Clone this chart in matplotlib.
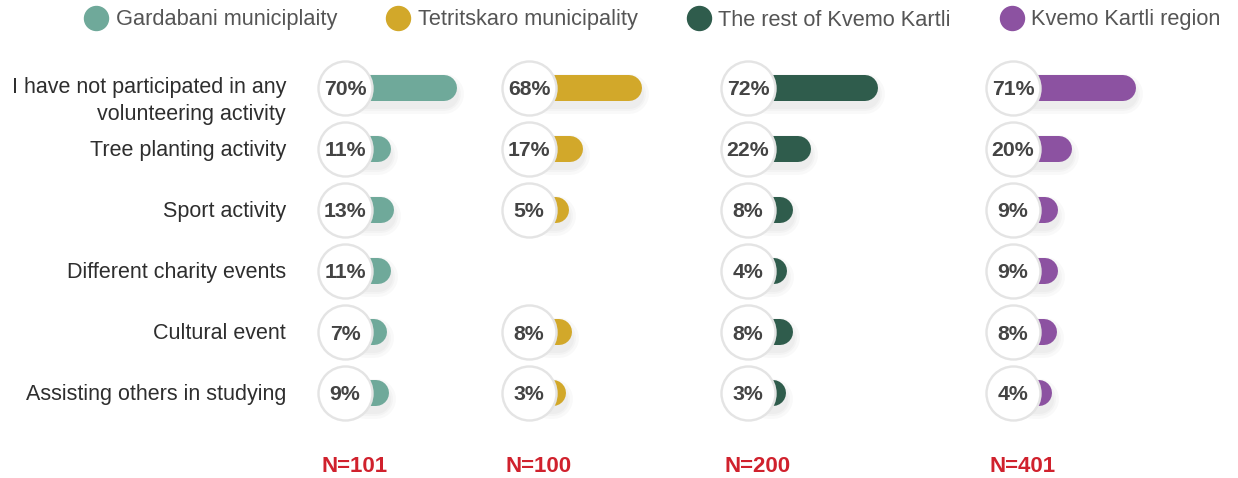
import numpy as np
import matplotlib.pyplot as plt
from matplotlib.transforms import blended_transform_factory
from matplotlib.lines import Line2D

plt.rcParams['font.family'] = ['Liberation Sans', 'DejaVu Sans']

activities = ["I have not participated in any\nvolunteering activity",
              "Tree planting activity",
              "Sport activity",
              "Different charity events",
              "Cultural event",
              "Assisting others in studying"]

groups = ["Gardabani municiplaity", "Tetritskaro municipality",
          "The rest of Kvemo Kartli", "Kvemo Kartli region"]
colors = ["#6fa99a", "#d2a82a", "#2f5c4c", "#8c52a1"]

gardabani = [70, 11, 13, 11, 7, 9]
tetritskaro = [68, 17, 5, None, 8, 3]
rest_kk = [72, 22, 8, 4, 8, 3]
kk_region = [71, 20, 9, 9, 8, 4]
values = [gardabani, tetritskaro, rest_kk, kk_region]
sample_n = [101, 100, 200, 401]

W, H = 1238, 478
fig = plt.figure(figsize=(W / 100, H / 100), dpi=100)

# panel layout in pixels: circle centre and pixels per percent
centres = [345, 529, 748, 1013]
px_per_pct = [1.12, 1.16, 1.34, 1.25]
row_top, row_h = 57.5, 61
bar_gap = 21       # bar start, right of circle centre (px)
bar_w = 26         # bar thickness (px)

pt = 72 / 100      # points per pixel
axes = []
for i, vals in enumerate(values):
    cx, k = centres[i], px_per_pct[i]
    left, width = cx - 40, 220
    ax = fig.add_axes([left / W, 1 - (row_top + 6 * row_h) / H,
                       width / W, 6 * row_h / H])
    ax.set_xlim(-40 / k, 180 / k)
    ax.set_ylim(5.5, -0.5)
    ax.axis('off')
    start = bar_gap / k
    for r, v in enumerate(vals):
        if v is None:
            continue
        # soft shadow under the bar
        for extra in [14, 8, 3]:
            ax.plot([start, start + v], [r + 0.1, r + 0.1], color='black',
                    alpha=0.025, lw=(bar_w + extra) * pt,
                    solid_capstyle='round', zorder=1)
        ax.plot([start, start + v], [r, r], color=colors[i],
                lw=bar_w * pt, solid_capstyle='round', zorder=2)
        ax.scatter([0], [r], s=(54 * pt) ** 2, facecolor='white',
                   edgecolor='#e4e4e4', linewidth=2.4 * pt, zorder=3)
        ax.text(0, r, f"{v}%", ha='center', va='center_baseline',
                fontsize=15.3, fontweight='bold', color='#444444', zorder=4)
    trans = blended_transform_factory(ax.transData, fig.transFigure)
    ax.text(10 / k, 1 - 466 / H, f"N={sample_n[i]}", transform=trans,
            ha='center', va='center', fontsize=16, fontweight='bold',
            color='#d0212d')
    axes.append(ax)

# activity labels, right aligned left of the first panel
ax0 = axes[0]
lab_trans = blended_transform_factory(fig.transFigure, ax0.transData)
for r, name in enumerate(activities):
    y = r + 0.21 if r == 0 else r + 0.03
    ax0.text(286 / W, y, name, transform=lab_trans, ha='right', va='center',
             fontsize=15.5, color='#2e2e2e', linespacing=1.4)

handles = [Line2D([], [], marker='o', ls='none', markersize=24 * pt,
                  markerfacecolor=c, markeredgecolor=c) for c in colors]
fig.legend(handles, groups, loc='center', bbox_to_anchor=(653 / W, 1 - 20 / H),
           ncol=4, frameon=False, fontsize=15.7, handlelength=1.0,
           handletextpad=0.4, columnspacing=2.3, labelcolor='#555555')

fig.savefig("out.png", dpi=100)
